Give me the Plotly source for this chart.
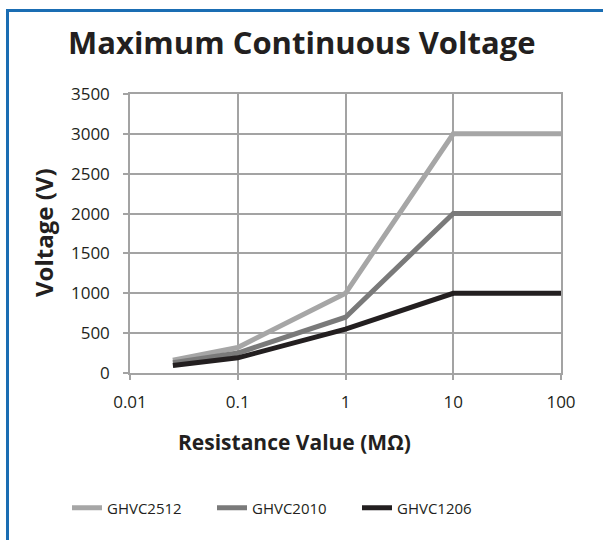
import plotly.graph_objects as go

resistance = [0.025, 0.1, 1, 10, 100]
ghvc2512 = [160, 320, 1000, 3000, 3000]
ghvc2010 = [130, 250, 700, 2000, 2000]
ghvc1206 = [95, 190, 550, 1000, 1000]

series_names = ["GHVC2512", "GHVC2010", "GHVC1206"]
series_values = [ghvc2512, ghvc2010, ghvc1206]
series_colors = ["#a6a6a6", "#7a7a7a", "#231f20"]

x_ticks = [0.01, 0.1, 1, 10, 100]
x_ticklabels = ["0.01", "0.1", "1", "10", "100"]

FONT = "Open Sans"
TXT = "#231f20"
GRID = "#a3a3a3"

fig = go.Figure()
for name, vals, col in zip(series_names, series_values, series_colors):
    fig.add_trace(go.Scatter(x=resistance, y=vals, mode="lines", name=name,
                             line=dict(color=col, width=5)))

W, H = 603, 540
ml, mr, mt, mb = 130, 42, 94, 167
pw, ph = W - ml - mr, H - mt - mb

def px(x):
    return (x - ml) / pw

def py(y):
    return (H - mb - y) / ph

fig.update_layout(
    width=W, height=H,
    margin=dict(l=ml, r=mr, t=mt, b=mb, pad=0),
    paper_bgcolor="white", plot_bgcolor="white",
    font=dict(family=FONT, color=TXT, size=17),
    showlegend=True,
    legend=dict(orientation="h", x=px(67), y=py(508), xanchor="left", yanchor="middle",
                font=dict(size=15, family=FONT, color=TXT),
                entrywidth=100, entrywidthmode="pixels",
                tracegroupgap=0, bgcolor="rgba(0,0,0,0)"),
    xaxis=dict(type="log", range=[-2, 2], tickvals=x_ticks, ticktext=x_ticklabels,
               showgrid=True, gridcolor=GRID, gridwidth=1.5,
               showline=True, linecolor=GRID, linewidth=1.5, mirror=True,
               ticks="outside", ticklen=5, tickcolor=GRID, tickwidth=1.5,
               ticklabelstandoff=8,
               tickfont=dict(size=17), zeroline=False),
    yaxis=dict(range=[0, 3500], dtick=500, tick0=0,
               showgrid=True, gridcolor=GRID, gridwidth=1.5,
               showline=True, linecolor=GRID, linewidth=1.5, mirror=True,
               ticks="outside", ticklen=5, tickcolor=GRID, tickwidth=1.5,
               ticklabelstandoff=10,
               tickfont=dict(size=17), zeroline=False),
    annotations=[
        dict(text="<b>Maximum Continuous Voltage</b>", x=px(301), y=py(42),
             xref="paper", yref="paper", showarrow=False, xanchor="center", yanchor="middle",
             font=dict(size=31, family=FONT, color=TXT)),
        dict(text="<b>Voltage (V)</b>", x=px(43), y=py(233), textangle=-90,
             xref="paper", yref="paper", showarrow=False, xanchor="center", yanchor="middle",
             font=dict(size=24, family=FONT, color=TXT)),
        dict(text="<b>Resistance Value (MΩ)</b>", x=px(294), y=py(442),
             xref="paper", yref="paper", showarrow=False, xanchor="center", yanchor="middle",
             font=dict(size=21, family=FONT, color=TXT)),
    ],
    shapes=[
        dict(type="rect", xref="paper", yref="paper", x0=px(7.5), y0=py(560), x1=px(640), y1=py(10.5),
             line=dict(color="#1a6db3", width=3), fillcolor="rgba(0,0,0,0)", layer="below"),
    ],
)

fig.write_html("out.html", config={"displayModeBar": False},
               post_script="document.body.style.margin='0px';")
